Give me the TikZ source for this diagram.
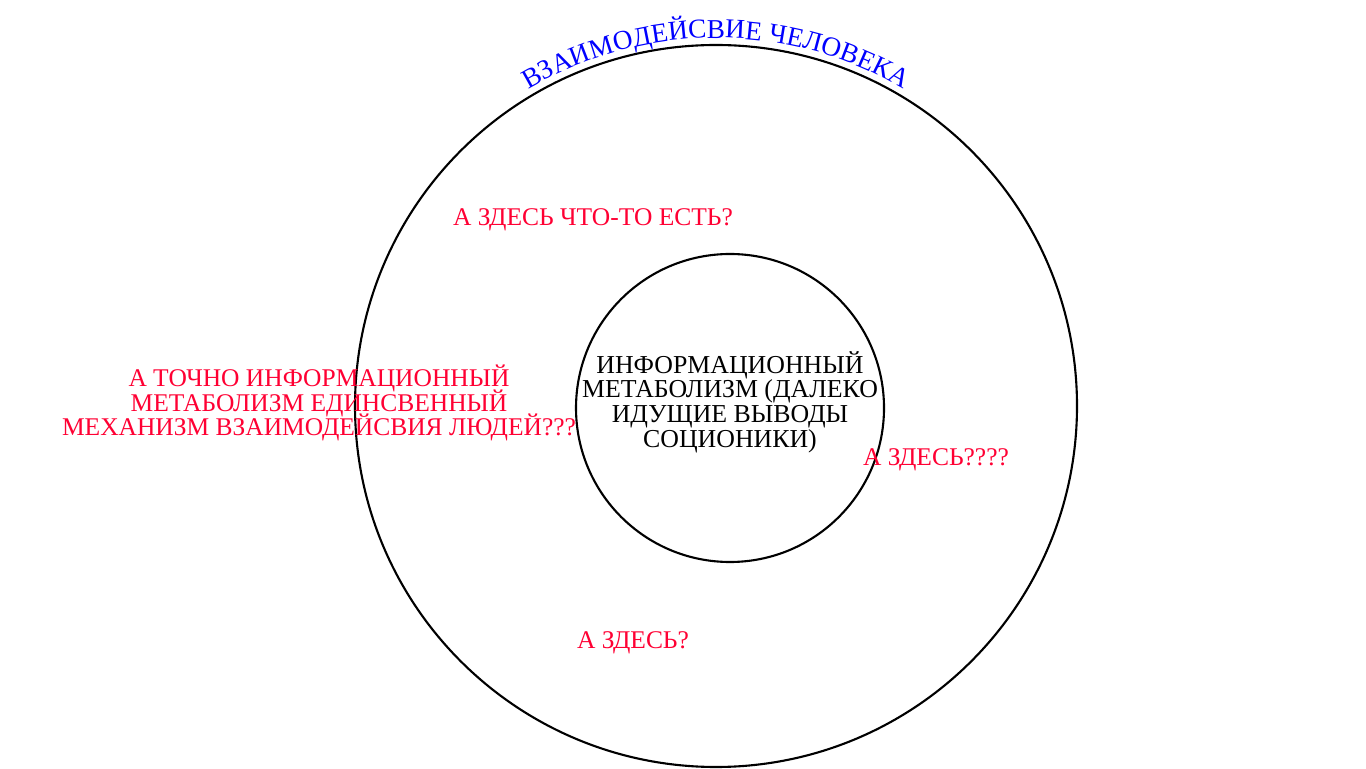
\documentclass[tikz,border=0pt]{standalone}
\usepackage{fontspec}
\setmainfont{Liberation Serif}
\usepackage{tikz}
\usetikzlibrary{positioning, decorations.text}
\definecolor{askred}{RGB}{255,0,51}
\newcommand{\tightlines}{\lineskiplimit=-5pt\relax}

\tikzset{
	ring/.style={draw, circle, inner sep=0pt, line width=0.6pt},
	ask/.style={text=askred, align=center,
		font=\fontsize{7.25}{7.05}\selectfont\tightlines},
}

\begin{document}
\begin{tikzpicture}[line cap=round, line join=round]
	\useasboundingbox (0,0) rectangle (13.66,7.68);

	\node[ring, minimum size=7.22cm] (outer) at (7.16,3.62) {};
	\node[ring, minimum size=3.08cm] (inner) at (7.30,3.60) {};
	\node[align=center, font=\fontsize{7.35}{7.05}\selectfont\tightlines]
		(metab) at (7.30,3.66)
		{ИНФОРМАЦИОННЫЙ\\МЕТАБОЛИЗМ (ДАЛЕКО\\ИДУЩИЕ ВЫВОДЫ\\СОЦИОНИКИ)};

	\path[decorate, decoration={text along path, text align=center,
		text={|\color{blue}\fontsize{7.75}{8}\selectfont|ВЗАИМОДЕЙСВИЕ ЧЕЛОВЕКА}}]
		(outer.center) ++(124:3.68) arc (124:56:3.68);

	\node[ask] (q1) at (5.93,5.48) {А ЗДЕСЬ ЧТО-ТО ЕСТЬ?};
	\node[ask] (q2) at (3.19,3.65)
		{А ТОЧНО ИНФОРМАЦИОННЫЙ\\МЕТАБОЛИЗМ ЕДИНСВЕННЫЙ\\МЕХАНИЗМ ВЗАИМОДЕЙСВИЯ ЛЮДЕЙ???};
	\node[ask] (q3) at (9.36,3.08) {А ЗДЕСЬ????};
	\node[ask] (q4) at (6.33,1.25) {А ЗДЕСЬ?};
\end{tikzpicture}
\end{document}
